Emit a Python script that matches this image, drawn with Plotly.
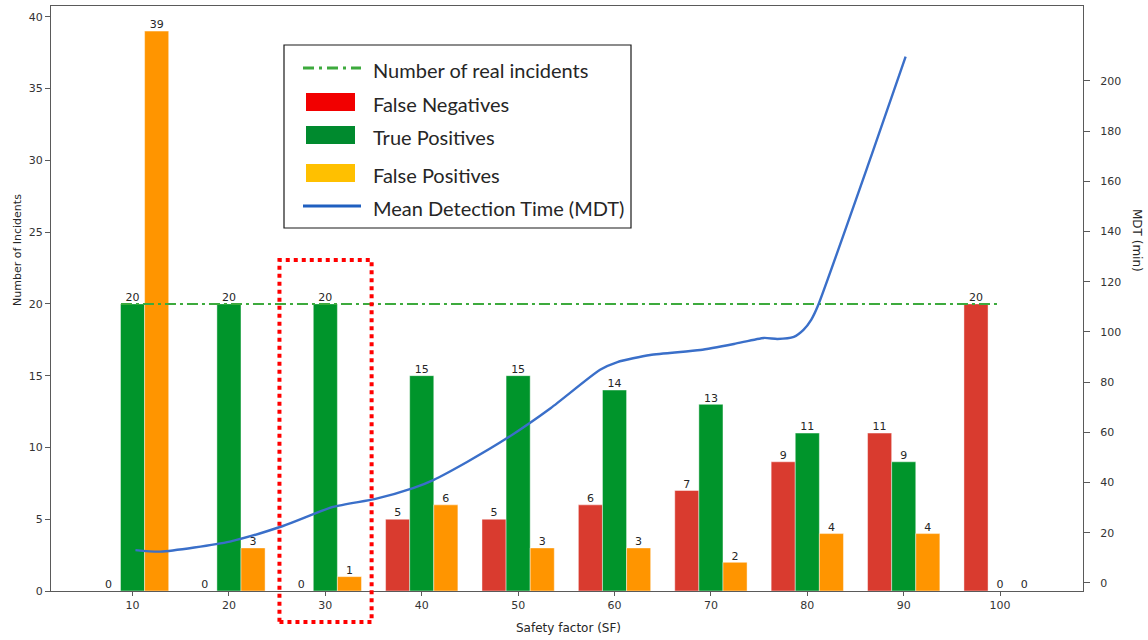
import plotly.graph_objects as go

# Safety factor groups and detection outcomes per group
sf = [10, 20, 30, 40, 50, 60, 70, 80, 90, 100]
false_neg = [0, 0, 0, 5, 5, 6, 7, 9, 11, 20]
true_pos = [20, 20, 20, 15, 15, 14, 13, 11, 9, 0]
false_pos = [39, 3, 1, 6, 3, 3, 2, 4, 4, 0]
real_incidents = 20

# Mean detection time curve (minutes), sampled along the safety factor axis
mdt_sf = [10.3, 12.9, 20.1, 25.6, 30.8, 35.2, 39.1, 41.2, 44.7, 48.9, 53.4,
          58.5, 60.3, 63.7, 68.9, 72.4, 75.5, 76.9, 78.6, 79.6, 80.4, 81.1,
          86.6, 90.2]
mdt_min = [13.1, 12.5, 16.5, 22.7, 30.3, 33.5, 37.8, 41.0, 48.2, 57.8, 69.7,
           84.9, 88.0, 90.8, 92.8, 95.2, 97.6, 97.2, 98.0, 100.8, 104.8, 110.4,
           169.7, 209.6]

RED, GREEN, ORANGE = "#d93b2f", "#00952b", "#ff9500"
LINE_BLUE = "#3a6fc9"
REF_GREEN = "#3daa3d"
TXT = "#262626"
AX = "#5a5a5a"
BAR_W = 2.5

W, H = 1148, 640
L, R, T, B = 51, 65, 6, 49
PW, PH = W - L - R, H - T - B


def px_x(px):
    return (px - L) / PW


def px_y(py):
    return (H - B - py) / PH


fig = go.Figure()

for vals, col in [(false_neg, RED), (true_pos, GREEN), (false_pos, ORANGE)]:
    fig.add_trace(go.Bar(x=sf, y=vals, marker=dict(color=col, line=dict(width=0.8, color="rgba(255,255,255,0.55)")),
                         showlegend=False, hoverinfo="skip"))

# value labels above every bar
lab_x, lab_y, lab_t = [], [], []
for off, vals in [(-BAR_W, false_neg), (0, true_pos), (BAR_W, false_pos)]:
    for s, v in zip(sf, vals):
        lab_x.append(s + off)
        lab_y.append(v)
        lab_t.append(str(v))
fig.add_trace(go.Scatter(x=lab_x, y=lab_y, text=lab_t, mode="text", textposition="top center",
                         textfont=dict(family="DejaVu Sans", size=11, color=TXT),
                         showlegend=False, hoverinfo="skip", cliponaxis=False))

# reference level: number of real incidents
fig.add_trace(go.Scatter(x=[sf[0] - 1.2, sf[-1] - 0.3], y=[real_incidents, real_incidents], mode="lines",
                         line=dict(color=REF_GREEN, width=2, dash="11px,4px,3px,4px"),
                         showlegend=False, hoverinfo="skip"))

# mean detection time on the secondary axis
fig.add_trace(go.Scatter(x=mdt_sf, y=mdt_min, mode="lines", yaxis="y2",
                         line=dict(color=LINE_BLUE, width=2.4, shape="spline", smoothing=0.6),
                         showlegend=False, hoverinfo="skip"))

tickfont = dict(family="DejaVu Sans", size=11, color="#333333")

fig.update_layout(
    width=W, height=H,
    margin=dict(l=L, r=R, t=T, b=B),
    paper_bgcolor="white", plot_bgcolor="white",
    barmode="group", bargap=0.25, bargroupgap=0,
    showlegend=False,
    xaxis=dict(range=[1.54, 108.6], tickvals=sf, ticks="outside", ticklen=4, tickcolor=AX,
               showline=True, linecolor=AX, linewidth=1, mirror=True, showgrid=False,
               zeroline=False, tickfont=tickfont),
    yaxis=dict(range=[0, 40.75], tickvals=list(range(0, 41, 5)), ticks="outside", ticklen=5,
               tickcolor=AX, showline=True, linecolor=AX, linewidth=1, showgrid=False,
               zeroline=False, tickfont=tickfont),
    yaxis2=dict(range=[-3.19, 229.8], tickvals=list(range(0, 201, 20)), overlaying="y", side="right",
                ticks="outside", ticklen=6, tickcolor=AX, showline=True, linecolor=AX, linewidth=1,
                showgrid=False, zeroline=False, tickfont=tickfont, ticklabelstandoff=8),
)

annotations = [
    dict(text="Safety factor (SF)", x=px_x(568), y=px_y(628), xref="paper", yref="paper",
         xanchor="center", yanchor="middle",
         showarrow=False, font=dict(family="DejaVu Sans", size=12, color=TXT)),
    dict(text="Number of Incidents", x=px_x(18), y=px_y(250), xref="paper", yref="paper",
         xanchor="center", yanchor="middle",
         showarrow=False, textangle=-90, font=dict(family="DejaVu Sans", size=11, color=TXT)),
    dict(text="MDT (min)", x=px_x(1137), y=px_y(240), xref="paper", yref="paper",
         xanchor="center", yanchor="middle",
         showarrow=False, textangle=90, font=dict(family="DejaVu Sans", size=12, color=TXT)),
]

shapes = [
    # highlighted safety factor group
    dict(type="rect", xref="x", yref="paper", x0=30 - 4.76, x1=30 + 4.8, y0=px_y(622), y1=px_y(260),
         line=dict(color="#ff0000", width=4, dash="dot"), fillcolor="rgba(0,0,0,0)"),
    # legend frame
    dict(type="rect", xref="paper", yref="paper", x0=px_x(284), x1=px_x(631), y0=px_y(228), y1=px_y(45),
         line=dict(color="#1a1a1a", width=1.2), fillcolor="white", layer="above"),
]

legend_rows = [
    ("line", REF_GREEN, "11px,5px,3px,5px", "Number of real incidents", 68),
    ("rect", "#f20000", None, "False Negatives", 102),
    ("rect", "#008a2e", None, "True Positives", 135),
    ("rect", "#ffc000", None, "False Positives", 173),
    ("line", "#1f5fc0", "solid", "Mean Detection Time (MDT)", 206),
]
for kind, col, dash, label, py in legend_rows:
    if kind == "line":
        shapes.append(dict(type="line", xref="paper", yref="paper", x0=px_x(303), x1=px_x(361),
                           y0=px_y(py), y1=px_y(py), line=dict(color=col, width=3, dash=dash), layer="above"))
    else:
        shapes.append(dict(type="rect", xref="paper", yref="paper", x0=px_x(306), x1=px_x(355),
                           y0=px_y(py + 9), y1=px_y(py - 9), line=dict(width=0), fillcolor=col, layer="above"))
    annotations.append(dict(text=label, x=px_x(371), y=px_y(py + 2), xref="paper", yref="paper",
                            xanchor="left", yanchor="middle", showarrow=False,
                            font=dict(family="Lato", size=20, color=TXT)))

fig.update_layout(shapes=shapes, annotations=annotations)

fig.write_html("out.html")
